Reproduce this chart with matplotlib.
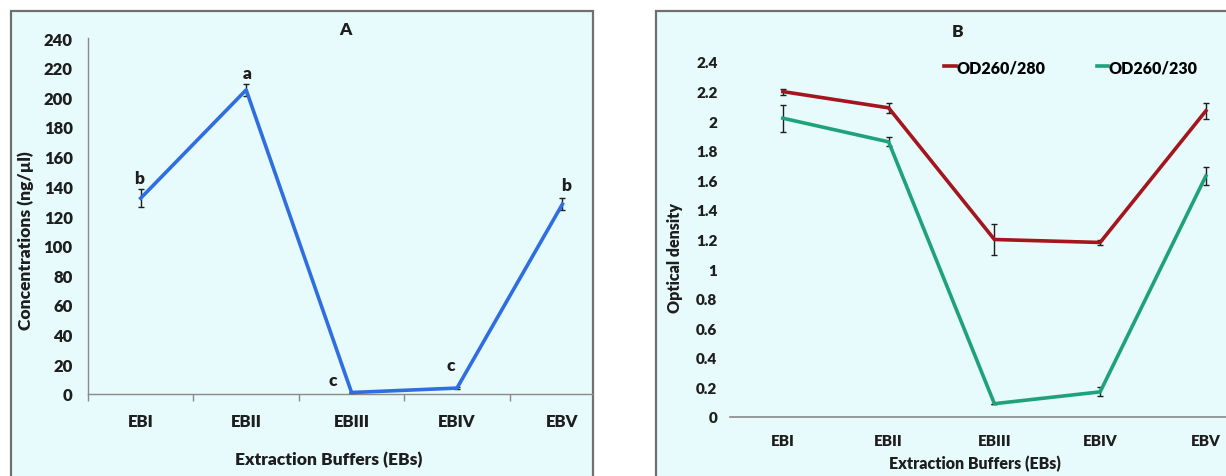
import matplotlib
matplotlib.use("Agg")
import matplotlib.pyplot as plt
from matplotlib.patches import Rectangle
from matplotlib.lines import Line2D
from matplotlib.ticker import FixedLocator

plt.rcParams['font.family'] = ['Lato', 'DejaVu Sans']
plt.rcParams['font.weight'] = 'heavy'

# Data
buffers = ["EBI", "EBII", "EBIII", "EBIV", "EBV"]
conc = [132, 205, 1, 4, 128]
conc_err = [6, 4, 0.5, 0.8, 4]
conc_letters = ["b", "a", "c", "c", "b"]

od280 = [2.20, 2.09, 1.20, 1.18, 2.07]
od280_err = [0.02, 0.035, 0.105, 0.02, 0.055]
od230 = [2.02, 1.86, 0.09, 0.17, 1.63]
od230_err = [0.09, 0.03, 0.0, 0.03, 0.06]

conc_ticks = list(range(0, 241, 20))
od_ticks = [0, 0.2, 0.4, 0.6, 0.8, 1, 1.2, 1.4, 1.6, 1.8, 2, 2.2, 2.4]
od_tick_labels = ["0", "0.2", "0.4", "0.6", "0.8", "1", "1.2", "1.4", "1.6", "1.8", "2", "2.2", "2.4"]

W, H = 1226, 477
fig = plt.figure(figsize=(W / 100, H / 100), dpi=100)
fig.patch.set_facecolor("white")

bg = "#e7fbfc"
border = "#6f6f6f"
spine = "#8a8a8a"
ink = "#1e1e1e"
wt = "heavy"

# Panel frames
fig.add_artist(Rectangle((11 / W, -0.01), (593 - 11) / W, 1 - 12 / H + 0.01,
                         transform=fig.transFigure, facecolor=bg, edgecolor=border,
                         linewidth=1.6, zorder=0))
fig.add_artist(Rectangle((656 / W, -0.01), (W - 656 + 5) / W, 1 - 12 / H + 0.01,
                         transform=fig.transFigure, facecolor=bg, edgecolor=border,
                         linewidth=1.6, zorder=0))

def px_axes(x0, x1, y_top, y_bot):
    return fig.add_axes([x0 / W, (H - y_bot) / H, (x1 - x0) / W, (y_bot - y_top) / H])

# ---------------- Panel A ----------------
axA = px_axes(88, 593, 39, 395)
axA.set_facecolor("none")
x = list(range(len(buffers)))
axA.errorbar(x, conc, yerr=conc_err, color="#2f6ee0", lw=2.6, ecolor=ink,
             elinewidth=1.0, capsize=2, capthick=1.0, zorder=3)
letter_offsets = [(-2, 20), (1, 17), (-19, 13), (-6, 23), (4, 19)]
for xi, yi, lab, off in zip(x, conc, conc_letters, letter_offsets):
    axA.annotate(lab, (xi, yi), xytext=off, textcoords="offset pixels",
                 ha="center", va="center", fontsize=12.5, fontweight=wt, color=ink)
axA.set_xlim(-0.5, 4.29)
axA.set_ylim(0, 240)
axA.set_yticks(conc_ticks)
axA.set_xticks(x)
axA.set_xticklabels(buffers)
axA.xaxis.set_minor_locator(FixedLocator([-0.5, 0.5, 1.5, 2.5, 3.5]))
axA.tick_params(axis="x", which="major", length=0, pad=14, labelsize=12, colors=ink)
axA.tick_params(axis="x", which="minor", length=5, width=1, color=spine, direction="out")
axA.tick_params(axis="y", length=0, pad=11, labelsize=12, colors=ink)
for lab in axA.get_xticklabels() + axA.get_yticklabels():
    lab.set_fontweight(wt)
for s in ("top", "right"):
    axA.spines[s].set_visible(False)
for s in ("left", "bottom"):
    axA.spines[s].set_color(spine)
    axA.spines[s].set_linewidth(1.0)
axA.set_ylabel("Concentrations (ng/µl)", fontsize=12.5, fontweight=wt, color=ink)
axA.yaxis.set_label_coords(-0.107, 0.435)
axA.set_xlabel("Extraction Buffers (EBs)", fontsize=12.5, fontweight=wt, color=ink)
axA.xaxis.set_label_coords(0.477, -0.16)
fig.text(345 / W, 1 - 30 / H, "A", ha="center", va="center", fontsize=12.5,
         fontweight=wt, color=ink)

# ---------------- Panel B ----------------
axB = px_axes(730, W, 63, 418)
axB.set_facecolor("none")
c280 = "#a5151e"
c230 = "#1fa27a"
axB.errorbar(x, od280, yerr=od280_err, color=c280, lw=2.6, ecolor=ink,
             elinewidth=1.0, capsize=2, capthick=1.0, zorder=3)
axB.errorbar(x, od230, yerr=od230_err, color=c230, lw=2.6, ecolor=ink,
             elinewidth=1.0, capsize=2, capthick=1.0, zorder=3)
axB.set_xlim(-0.5, 4.19)
axB.set_ylim(0, 2.4)
axB.set_yticks(od_ticks)
axB.set_yticklabels(od_tick_labels)
axB.set_xticks(x)
axB.set_xticklabels(buffers)
axB.tick_params(axis="x", length=0, pad=12, labelsize=11, colors=ink)
axB.tick_params(axis="y", length=0, pad=9, labelsize=11, colors=ink)
for lab in axB.get_xticklabels() + axB.get_yticklabels():
    lab.set_fontweight(wt)
for s in ("top", "right", "left"):
    axB.spines[s].set_visible(False)
axB.spines["bottom"].set_color(spine)
axB.spines["bottom"].set_linewidth(1.2)
axB.set_ylabel("Optical density", fontsize=11.5, fontweight=wt, color=ink)
axB.yaxis.set_label_coords(-0.095, 0.45)
axB.set_xlabel("Extraction Buffers (EBs)", fontsize=11.5, fontweight=wt, color=ink)
axB.xaxis.set_label_coords(0.494, -0.105)
fig.text(958 / W, 1 - 32 / H, "B", ha="center", va="center", fontsize=12.5,
         fontweight=wt, color=ink)

handles = [Line2D([], [], color=c280, lw=2.6), Line2D([], [], color=c230, lw=2.6)]
fig.legend(handles, ["OD260/280", "OD260/230"], loc="center",
           bbox_to_anchor=(1071 / W, 1 - 68 / H), ncol=2, frameon=False,
           handlelength=0.7, handletextpad=0.05, columnspacing=3.2,
           prop={"weight": wt, "size": 11.5})

fig.savefig("out.png", dpi=100)
